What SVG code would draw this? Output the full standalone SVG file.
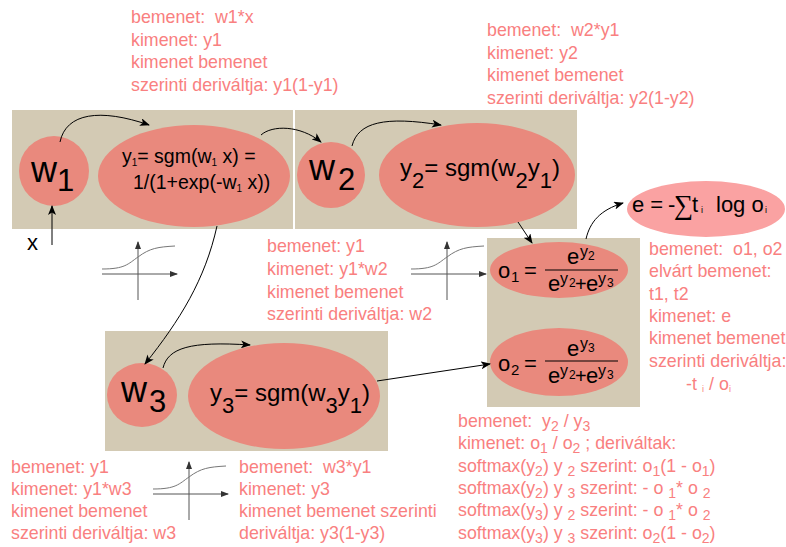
<svg xmlns="http://www.w3.org/2000/svg" width="786" height="547" viewBox="0 0 786 547">
<defs>
<style>
text{font-family:"Liberation Sans",Arial,sans-serif}
.box{fill:#d3cab4}
.node{fill:#e9897d}
.enode{fill:#faa2a2}
.f{fill:#000}
.lbl{fill:#f98080;font-size:17.8px;white-space:pre}
.sub{font-size:14px}
.con{fill:none;stroke:#000;stroke-width:1}
.ax{fill:none;stroke:#555;stroke-width:1}
.sig{fill:none;stroke:#777;stroke-width:1}
</style>
<marker id="ah" markerWidth="10" markerHeight="8" refX="9" refY="4" orient="auto" markerUnits="userSpaceOnUse">
<path d="M0,0 L10,4 L0,8 L2.5,4 Z" fill="#000"/>
</marker>
<marker id="ah2" markerWidth="8" markerHeight="6" refX="7" refY="3" orient="auto" markerUnits="userSpaceOnUse">
<path d="M0,0 L8,3 L0,6 Z" fill="#333"/>
</marker>
<g id="sigicon">
<path class="ax" d="M0,0 L75,0" marker-end="url(#ah2)"/>
<path class="ax" d="M36,26 L36,-32" marker-end="url(#ah2)"/>
<path class="sig" d="M0,-5 C23,-5 26,-10 36,-17 C48,-26 56,-27 73,-28"/>
</g>
</defs>

<g id="boxes">
<rect class="box" x="12" y="110" width="281" height="119"/>
<rect class="box" x="295" y="110" width="282" height="119"/>
<rect class="box" x="487" y="238" width="153" height="169"/>
<rect class="box" x="105" y="331" width="283" height="120"/>
</g>

<g id="icons">
<use href="#sigicon" x="102" y="274"/>
<use href="#sigicon" x="411" y="274"/>
<use href="#sigicon" x="153" y="494"/>
</g>

<g id="node-w1">
<ellipse class="node" cx="54" cy="171" rx="35" ry="35"/>
<text class="f" x="31" y="182" font-size="36">w</text>
<text class="f" x="57" y="191" font-size="31">1</text>
</g>

<g id="node-y1">
<ellipse class="node" cx="194" cy="176" rx="96" ry="51"/>
<text class="f" x="122" y="163" font-size="19.5">y<tspan font-size="10" dy="3">1</tspan><tspan dy="-3">= sgm(w</tspan><tspan font-size="10" dy="3">1</tspan><tspan dy="-3"> x) =</tspan></text>
<text class="f" x="133" y="189" font-size="19.5">1/(1+exp(-w<tspan font-size="10" dy="3">1</tspan><tspan dy="-3"> x))</tspan></text>
</g>

<g id="node-w2">
<ellipse class="node" cx="331" cy="175" rx="34" ry="33"/>
<text class="f" x="309" y="180" font-size="36">w</text>
<text class="f" x="338" y="190" font-size="31">2</text>
</g>

<g id="node-y2">
<ellipse class="node" cx="477" cy="175" rx="98" ry="52"/>
<text class="f" x="400" y="176" font-size="24">y<tspan font-size="22" dy="12">2</tspan><tspan dy="-12">= sgm(w</tspan><tspan font-size="22" dy="12">2</tspan><tspan dy="-12">y</tspan><tspan font-size="22" dy="12">1</tspan><tspan dy="-12">)</tspan></text>
</g>

<g id="node-w3">
<ellipse class="node" cx="142" cy="395" rx="35" ry="32"/>
<text class="f" x="121" y="402" font-size="36">w</text>
<text class="f" x="149" y="412" font-size="31">3</text>
</g>

<g id="node-y3">
<ellipse class="node" cx="284" cy="396" rx="96" ry="53"/>
<text class="f" x="210" y="401" font-size="24">y<tspan font-size="22" dy="12">3</tspan><tspan dy="-12">= sgm(w</tspan><tspan font-size="22" dy="12">3</tspan><tspan dy="-12">y</tspan><tspan font-size="22" dy="12">1</tspan><tspan dy="-12">)</tspan></text>
</g>

<g id="node-o1">
<ellipse class="node" cx="559" cy="270" rx="69" ry="28"/>
<text class="f" x="498" y="278" font-size="22">o</text>
<text class="f" x="511" y="282" font-size="15">1</text>
<text class="f" x="524" y="278" font-size="22">=</text>
<line x1="545" y1="270" x2="618" y2="270" stroke="#000" stroke-width="1.2"/>
<text class="f" x="567" y="264" font-size="22">e</text>
<text class="f" x="580" y="257" font-size="16">y</text>
<text class="f" x="588" y="260" font-size="12">2</text>
<text class="f" x="548" y="291" font-size="22">e</text>
<text class="f" x="560" y="284" font-size="16">y</text>
<text class="f" x="569" y="287" font-size="12">2</text>
<text class="f" x="575" y="291" font-size="20">+</text>
<text class="f" x="586" y="291" font-size="22">e</text>
<text class="f" x="598" y="284" font-size="16">y</text>
<text class="f" x="607" y="287" font-size="12">3</text>
</g>

<g id="node-o2">
<ellipse class="node" cx="559" cy="362" rx="69" ry="34"/>
<text class="f" x="498" y="371" font-size="22">o</text>
<text class="f" x="511" y="375" font-size="15">2</text>
<text class="f" x="524" y="371" font-size="22">=</text>
<line x1="545" y1="361" x2="618" y2="361" stroke="#000" stroke-width="1.2"/>
<text class="f" x="567" y="356" font-size="22">e</text>
<text class="f" x="580" y="349" font-size="16">y</text>
<text class="f" x="588" y="352" font-size="12">3</text>
<text class="f" x="548" y="383" font-size="22">e</text>
<text class="f" x="560" y="376" font-size="16">y</text>
<text class="f" x="569" y="379" font-size="12">2</text>
<text class="f" x="575" y="383" font-size="20">+</text>
<text class="f" x="586" y="383" font-size="22">e</text>
<text class="f" x="598" y="376" font-size="16">y</text>
<text class="f" x="607" y="379" font-size="12">3</text>
</g>

<g id="node-e">
<ellipse class="enode" cx="706" cy="209" rx="79" ry="28"/>
<text class="f" y="212" font-size="22"><tspan x="632">e =</tspan><tspan x="668">-</tspan><tspan x="674" y="214" font-family="DejaVu Sans" font-weight="300" font-size="27">∑</tspan><tspan x="692" y="212">t</tspan><tspan x="701" font-size="9" dy="1">i</tspan><tspan x="716" dy="-1">log o</tspan><tspan x="765" font-size="9" dy="1">i</tspan></text>
</g>

<g id="x-input">
<text class="f" x="27" y="250" font-size="22">x</text>
</g>

<g id="connectors">
<path class="con" d="M60,142 C66,113 100,108 149,125" marker-end="url(#ah)"/>
<path class="con" d="M261,135 C272,125 300,125 321,142" marker-end="url(#ah)"/>
<path class="con" d="M352,146 C358,122 385,116 441,125" marker-end="url(#ah)"/>
<path class="con" d="M518,222 L532,243" marker-end="url(#ah)"/>
<path class="con" d="M586,239 C590,222 600,210 623,203" marker-end="url(#ah)"/>
<path class="con" d="M217,226 C205,280 180,320 145,364" marker-end="url(#ah)"/>
<path class="con" d="M163,368 C168,348 190,341 250,345" marker-end="url(#ah)"/>
<path class="con" d="M377,381 L490,364" marker-end="url(#ah)"/>
<path class="con" d="M52,245 L52,206" marker-end="url(#ah)"/>
</g>

<g id="labels">
<text class="lbl"><tspan x="131" y="23">bemenet:  w1*x</tspan><tspan x="131" y="46">kimenet: y1</tspan><tspan x="131" y="68">kimenet bemenet</tspan><tspan x="131" y="91">szerinti deriváltja: y1(1-y1)</tspan></text>
<text class="lbl"><tspan x="487" y="36">bemenet:  w2*y1</tspan><tspan x="487" y="59">kimenet: y2</tspan><tspan x="487" y="81">kimenet bemenet</tspan><tspan x="487" y="104">szerinti deriváltja: y2(1-y2)</tspan></text>
<text class="lbl"><tspan x="267" y="252">bemenet: y1</tspan><tspan x="267" y="275">kimenet: y1*w2</tspan><tspan x="267" y="298">kimenet bemenet</tspan><tspan x="267" y="320">szerinti deriváltja: w2</tspan></text>
<text class="lbl"><tspan x="649" y="255">bemenet:  o1, o2</tspan><tspan x="649" y="277">elvárt bemenet:</tspan><tspan x="649" y="300">t1, t2</tspan><tspan x="649" y="322">kimenet: e</tspan><tspan x="649" y="344">kimenet bemenet</tspan><tspan x="649" y="367">szerinti deriváltja:</tspan></text>
<text class="lbl" y="390"><tspan x="686">-t</tspan><tspan x="702" font-size="9" dy="2">i</tspan><tspan x="709" dy="-2">/ o</tspan><tspan x="729" font-size="9" dy="2">i</tspan></text>
<text class="lbl"><tspan x="11" y="473">bemenet: y1</tspan><tspan x="11" y="495">kimenet: y1*w3</tspan><tspan x="11" y="517">kimenet bemenet</tspan><tspan x="11" y="539">szerinti deriváltja: w3</tspan></text>
<text class="lbl"><tspan x="239" y="473">bemenet:  w3*y1</tspan><tspan x="239" y="495">kimenet: y3</tspan><tspan x="239" y="517">kimenet bemenet szerinti</tspan><tspan x="239" y="539">deriváltja: y3(1-y3)</tspan></text>

<text class="lbl" x="458" y="427">bemenet:  y<tspan class="sub" dy="4">2</tspan><tspan dy="-4"> / y</tspan><tspan class="sub" dy="4">3</tspan></text>
<text class="lbl" x="458" y="449">kimenet: o<tspan class="sub" dy="4">1</tspan><tspan dy="-4"> / o</tspan><tspan class="sub" dy="4">2</tspan><tspan dy="-4"> ; deriváltak:</tspan></text>
<text class="lbl" x="458" y="472">softmax(y<tspan class="sub" dy="4">2</tspan><tspan dy="-4">) y </tspan><tspan class="sub" dy="4">2</tspan><tspan dy="-4"> szerint: o</tspan><tspan class="sub" dy="4">1</tspan><tspan dy="-4">(1 - o</tspan><tspan class="sub" dy="4">1</tspan><tspan dy="-4">)</tspan></text>
<text class="lbl" x="458" y="494">softmax(y<tspan class="sub" dy="4">2</tspan><tspan dy="-4">) y </tspan><tspan class="sub" dy="4">3</tspan><tspan dy="-4"> szerint: - o </tspan><tspan class="sub" dy="4">1</tspan><tspan dy="-4">* o </tspan><tspan class="sub" dy="4">2</tspan></text>
<text class="lbl" x="458" y="516">softmax(y<tspan class="sub" dy="4">3</tspan><tspan dy="-4">) y </tspan><tspan class="sub" dy="4">2</tspan><tspan dy="-4"> szerint: - o </tspan><tspan class="sub" dy="4">1</tspan><tspan dy="-4">* o </tspan><tspan class="sub" dy="4">2</tspan></text>
<text class="lbl" x="458" y="539">softmax(y<tspan class="sub" dy="4">3</tspan><tspan dy="-4">) y </tspan><tspan class="sub" dy="4">3</tspan><tspan dy="-4"> szerint: o</tspan><tspan class="sub" dy="4">2</tspan><tspan dy="-4">(1 - o</tspan><tspan class="sub" dy="4">2</tspan><tspan dy="-4">)</tspan></text>
</g>
</svg>
